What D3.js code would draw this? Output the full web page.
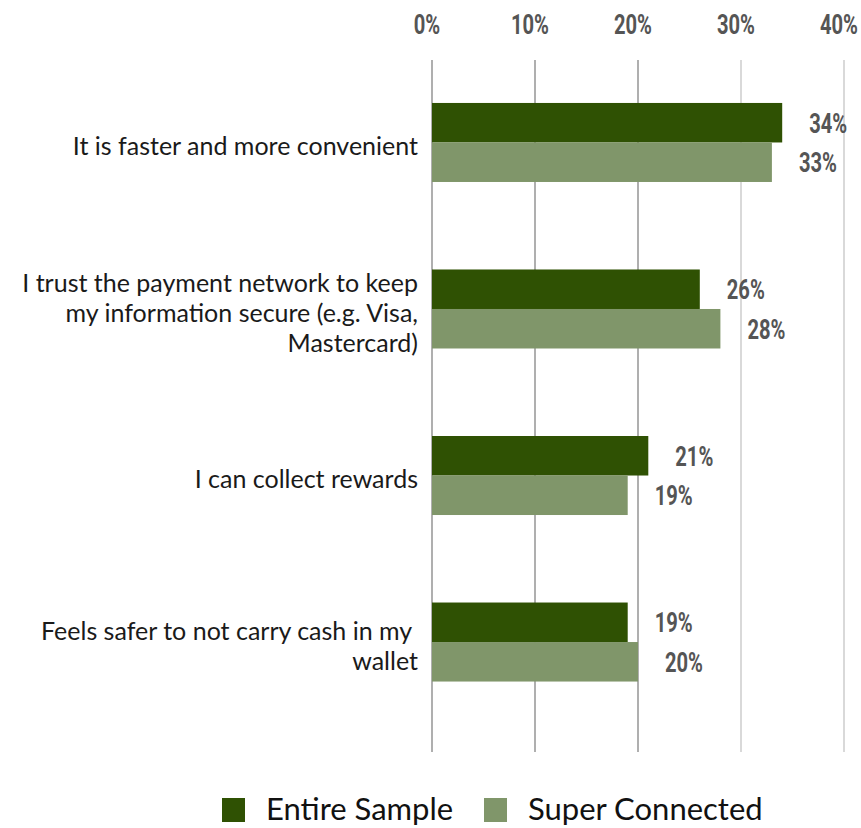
<!DOCTYPE html>
<html>
<head>
<meta charset="utf-8">
<script src="https://cdn.jsdelivr.net/npm/d3@7/dist/d3.min.js"></script>
<style>
  html, body { margin: 0; padding: 0; background: #fff; }
  svg { display: block; }
</style>
</head>
<body>
<svg id="chart" width="861" height="828"></svg>
<script>
// Reasons for paying by card, two respondent groups
const categories = [
  ["It is faster and more convenient"],
  ["I trust the payment network to keep", "my information secure (e.g. Visa,", "Mastercard)"],
  ["I can collect rewards"],
  ["Feels safer to not carry cash in my ", "wallet"]
];
const seriesNames = ["Entire Sample", "Super Connected"];
const entireSample = [34, 26, 21, 19];
const superConnected = [33, 28, 19, 20];
const tickValues = [0, 10, 20, 30, 40];
const colors = ["#2f5103", "#80966a"];

const svg = d3.select("#chart");
const catKeys = categories.map((c, i) => i);

const x = d3.scaleLinear().domain([0, 40]).range([432, 844]);
const y = d3.scaleBand().domain(catKeys).range([60, 724.5])
  .paddingInner(0.5255).paddingOuter(0.258);
const ySub = d3.scaleBand().domain([0, 1]).range([0, y.bandwidth()]);

const gridTop = 60, gridBottom = 752;

// condensed bold numerals: Roboto squeezed horizontally
const numFont = "Roboto, 'DejaVu Sans', sans-serif";
const squeeze = 0.72;
function numLabel(sel, anchor) {
  sel.attr("font-family", numFont)
    .attr("font-weight", "bold")
    .attr("font-size", 28)
    .attr("fill", "#555")
    .attr("text-anchor", anchor);
}

// vertical grid lines
svg.append("g").selectAll("line").data(tickValues).join("line")
  .attr("x1", d => x(d)).attr("x2", d => x(d))
  .attr("y1", gridTop).attr("y2", gridBottom)
  .attr("stroke", d => d <= 20 ? "#7a7a7a" : "#d9d9d9")
  .attr("stroke-width", d => d <= 20 ? 1.2 : 2);

// top axis labels
const axisG = svg.append("g");
axisG.selectAll("g").data(tickValues).join("g")
  .attr("transform", d => `translate(${x(d) - 5},34) scale(${squeeze},1)`)
  .append("text")
  .call(numLabel, "middle")
  .text(d => d + "%");

// bars
const series = [entireSample, superConnected];
const groups = svg.append("g").selectAll("g").data(catKeys).join("g")
  .attr("transform", d => `translate(0,${y(d)})`);

groups.selectAll("rect").data(i => series.map((s, k) => ({ k, v: s[i] }))).join("rect")
  .attr("x", x(0))
  .attr("y", d => ySub(d.k))
  .attr("width", d => x(d.v) - x(0))
  .attr("height", ySub.bandwidth())
  .attr("fill", d => colors[d.k]);

// value labels
groups.selectAll("g.val").data(i => series.map((s, k) => ({ k, v: s[i] }))).join("g")
  .attr("class", "val")
  .attr("transform", d => `translate(${x(d.v) + 27},${ySub(d.k) + ySub.bandwidth() / 2 + 10}) scale(${squeeze},1)`)
  .append("text")
  .call(numLabel, "start")
  .text(d => d.v + "%");

// category labels
const lineH = 30;
svg.append("g").selectAll("text").data(catKeys).join("text")
  .attr("text-anchor", "end")
  .attr("font-family", "Lato, 'Noto Sans', sans-serif")
  .attr("font-size", 25)
  .attr("fill", "#1a1a1a")
  .style("white-space", "pre")
  .each(function (i) {
    const lines = categories[i];
    const cy = y(i) + y.bandwidth() / 2 + 4;
    const t = d3.select(this);
    lines.forEach((ln, j) => {
      t.append("tspan")
        .attr("x", 418)
        .attr("y", cy + (j - (lines.length - 1) / 2) * lineH)
        .attr("dy", "0.35em")
        .text(ln);
    });
  });

// legend
const legendItems = [
  { name: seriesNames[0], color: colors[0], sx: 222, tx: 266 },
  { name: seriesNames[1], color: colors[1], sx: 484, tx: 528 }
];
const legend = svg.append("g");
legend.selectAll("rect").data(legendItems).join("rect")
  .attr("x", d => d.sx).attr("y", 798).attr("width", 23).attr("height", 24)
  .attr("fill", d => d.color);
legend.selectAll("text").data(legendItems).join("text")
  .attr("x", d => d.tx).attr("y", 820)
  .attr("font-family", "Lato, 'Noto Sans', sans-serif")
  .attr("font-size", 31)
  .attr("fill", "#111")
  .text(d => d.name);
</script>
</body>
</html>
